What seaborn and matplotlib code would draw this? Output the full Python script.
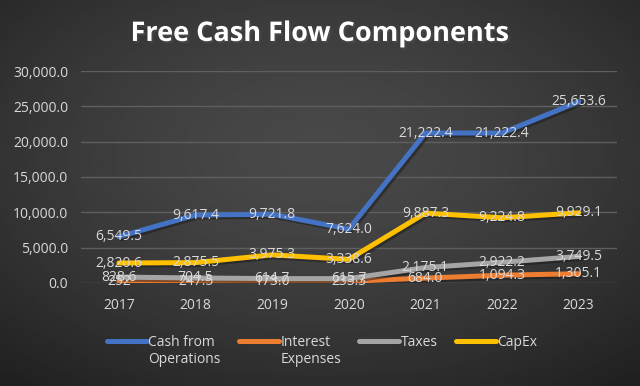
import numpy as np
import pandas as pd
import seaborn as sns
import matplotlib.pyplot as plt
import matplotlib.patheffects as pe
import matplotlib.ticker as tck

years = ['2017', '2018', '2019', '2020', '2021', '2022', '2023']
cash_ops = [6549.5, 9617.4, 9721.8, 7624.0, 21222.4, 21222.4, 25653.6]
interest = [252, 247.5, 173.0, 233.3, 684.0, 1094.3, 1305.1]
taxes = [828.6, 704.5, 614.7, 615.7, 2175.1, 2922.2, 3749.5]
capex = [2820.6, 2875.5, 3975.3, 3338.6, 9887.3, 9224.8, 9929.1]

series = ['Cash from Operations', 'Interest Expenses', 'Taxes', 'CapEx']
legend_labels = ['Cash from\nOperations', 'Interest\nExpenses', 'Taxes\n', 'CapEx\n']
palette = {'Cash from Operations': '#4472C4', 'Interest Expenses': '#ED7D31',
           'Taxes': '#A5A5A5', 'CapEx': '#FFC000'}

df = pd.DataFrame({
    'year': years * 4,
    'value': cash_ops + interest + taxes + capex,
    'serie': sum([[s] * len(years) for s in series], []),
})

sns.set_theme(style='dark')
plt.rcParams['font.family'] = ['Open Sans', 'DejaVu Sans']
txt = '#D9D9D9'

fig = plt.figure(figsize=(6.4, 3.86), dpi=100)

# fond en dégradé radial façon Excel
bg = fig.add_axes([0, 0, 1, 1], zorder=-10)
yy, xx = np.mgrid[-1:1:200j, -1:1:320j]
r = np.sqrt(xx ** 2 + (yy + 0.2) ** 2) / np.sqrt(2)
bg.imshow(0.285 - 0.14 * r ** 1.5, cmap='gray', vmin=0, vmax=1, aspect='auto',
          extent=[0, 1, 0, 1])
bg.set_axis_off()

ax = fig.add_axes([0.126, 0.267, 0.838, 0.549])
ax.patch.set_alpha(0)

sns.lineplot(data=df, x='year', y='value', hue='serie', palette=palette,
             hue_order=series, linewidth=3.6, ax=ax, sort=False,
             path_effects=[pe.SimpleLineShadow(offset=(1.5, -1.5), alpha=0.5),
                           pe.Normal()])

for s in series:
    sub = df[df['serie'] == s]
    for i, v in enumerate(sub['value']):
        lab = f'{v:,.0f}' if s == 'Interest Expenses' and i == 0 else f'{v:,.1f}'
        ax.text(i, v, lab, ha='center', va='center', color=txt, fontsize=10,
                zorder=5)

ax.set_ylim(0, 30000)
ax.set_xlim(-0.5, len(years) - 0.5)
ax.yaxis.set_major_locator(tck.MultipleLocator(5000))
ax.yaxis.set_major_formatter(tck.FuncFormatter(lambda v, p: f'{v:,.1f}'))
ax.grid(axis='y', color='#5F5F5F', linewidth=1)
ax.grid(axis='x', visible=False)
for sp in ax.spines.values():
    sp.set_visible(False)
ax.tick_params(axis='y', colors=txt, labelsize=10, length=0, pad=9)
ax.tick_params(axis='x', colors=txt, labelsize=10, length=0, pad=11)
ax.set_xlabel(None)
ax.set_ylabel(None)

handles, _ = ax.get_legend_handles_labels()
leg = ax.legend(handles, legend_labels, ncol=4, loc='upper center',
                bbox_to_anchor=(0.45, -0.185), frameon=False, fontsize=10,
                handlelength=2.9, handletextpad=0.1, columnspacing=1.3,
                labelcolor=txt)
for t in leg.get_texts():
    t.set_linespacing(1.22)
for ln in leg.get_lines():
    ln.set_linewidth(3.6)
    ln.set_solid_capstyle('round')
    ln.set_path_effects([])
    ln.set_ydata(np.asarray(ln.get_ydata()) + 7.5)

fig.text(0.5, 0.912, 'Free Cash Flow Components', ha='center', va='center',
         color='white', fontsize=19.5, fontweight='bold',
         path_effects=[pe.withSimplePatchShadow(offset=(1.5, -1.5), alpha=0.6)])

plt.savefig('out.png', dpi=100)
